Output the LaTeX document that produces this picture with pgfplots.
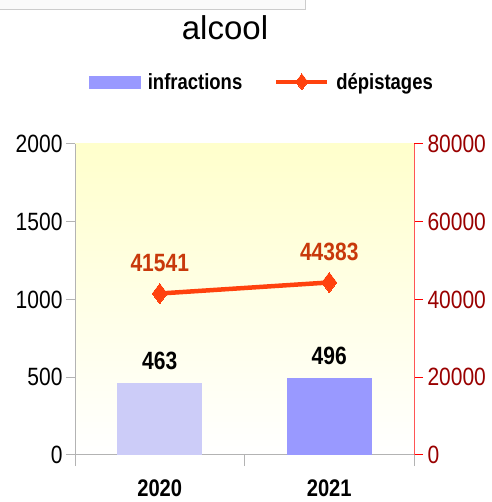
\documentclass[border=0pt]{standalone}
\usepackage{fontspec}
\setmainfont{Liberation Sans}
\newfontfamily\narrow{Liberation Sans}[FakeStretch=0.84]
\usepackage{pgfplots}
\pgfplotsset{compat=1.18}
\definecolor{barA}{HTML}{CCCCF8}
\definecolor{barB}{HTML}{9999FF}
\definecolor{lineC}{HTML}{FF420E}
\definecolor{lineL}{HTML}{C8390B}
\definecolor{axgray}{HTML}{B3B3B3}
\definecolor{rred}{HTML}{FF5555}
\definecolor{rlab}{HTML}{990000}
\definecolor{bgtop}{HTML}{FFFFCC}
\begin{document}
\begin{tikzpicture}[x=1pt,y=1pt]
\path[use as bounding box] (0,0) rectangle (491,502);
\draw[draw=black!20,fill=black!2!white] (-1,493) rectangle (305,503);
\node[font=\fontsize{33}{38}\selectfont] at (225,474) {alcool};
\begin{axis}[
  at={(75pt,47pt)}, anchor=south west,
  scale only axis, width=339pt, height=311pt,
  xmin=-0.5, xmax=1.5, ymin=0, ymax=2000,
  axis background/.style={top color=bgtop, bottom color=white},
  axis x line*=bottom, axis y line*=left,
  axis line style={axgray, line width=1pt},
  xtick={0,1}, xticklabels={2020,2021},
  minor xtick={-0.5,0.5,1.5},
  ytick={0,500,1000,1500,2000},
  tick align=outside,
  major tick length=9pt, minor tick length=11pt,
  x tick style={draw=none},
  minor x tick style={draw=axgray, line width=1pt},
  y tick style={axgray, line width=1pt},
  /pgf/number format/assume math mode=true,
  /pgf/number format/1000 sep={},
  yticklabel style={font=\narrow\fontsize{25}{28}\selectfont, xshift=0pt},
  xticklabel style={font=\narrow\bfseries\fontsize{24}{27}\selectfont, yshift=-12pt},
  ybar, bar width=85pt,
  nodes near coords,
  every node near coord/.append style={font=\narrow\bfseries\fontsize{25}{28}\selectfont, black, yshift=10pt},
  clip=false,
]
\addplot[fill=barA, draw=none, bar shift=0pt] coordinates {(0,463)};
\addplot[fill=barB, draw=none, bar shift=0pt] coordinates {(1,496)};
\end{axis}
\begin{axis}[
  at={(75pt,47pt)}, anchor=south west,
  scale only axis, width=339pt, height=311pt,
  xmin=-0.5, xmax=1.5, ymin=0, ymax=80000,
  axis x line=none, axis y line*=right,
  axis line style={rred, line width=1pt},
  ytick={0,20000,40000,60000,80000},
  tick align=outside, major tick length=9pt,
  y tick style={red, line width=1pt},
  /pgf/number format/assume math mode=true,
  /pgf/number format/1000 sep={},
  scaled y ticks=false,
  yticklabel style={font=\narrow\fontsize{25}{28}\selectfont, rlab, xshift=1pt},
  legend style={at={(0.552,1.2)}, anchor=center, draw=none, fill=none,
    legend columns=2, font=\narrow\bfseries\fontsize{22}{25}\selectfont,
    /tikz/every odd column/.append style={column sep=5pt},
    /tikz/every even column/.append style={column sep=30pt}},
  legend image code/.code={
    \draw[lineC, line width=4pt, mark=diamond*, mark size=8pt, mark options={fill=lineC, line width=0pt}, mark repeat=2, mark phase=2]
      plot coordinates {(0pt,0pt) (25.5pt,0pt) (51pt,0pt)};
  },
  clip=false,
]
\addlegendimage{legend image code/.code={\fill[barB] (0pt,-6pt) rectangle (51pt,6pt);}}
\addlegendentry{infractions}
\addplot[lineC, line width=4.5pt, mark=diamond*, mark size=10pt, mark options={fill=lineC, line width=0pt},
  nodes near coords, every node near coord/.append style={font=\narrow\bfseries\fontsize{25}{28}\selectfont, lineL, yshift=18pt}]
  coordinates {(0,41541) (1,44383)};
\addlegendentry{dépistages}
\end{axis}
\end{tikzpicture}
\end{document}
